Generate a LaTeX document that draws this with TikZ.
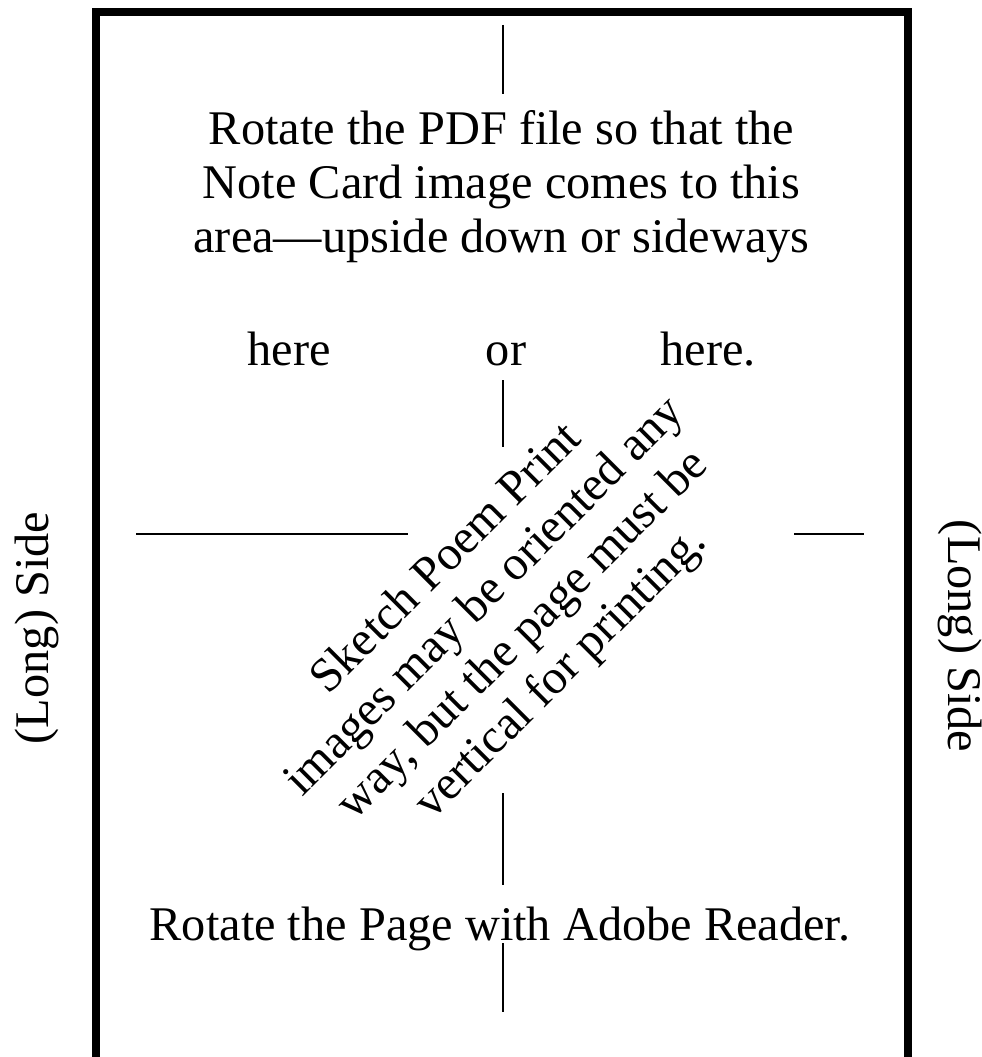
\documentclass[tikz,border=0pt]{standalone}
\usepackage{fontspec}
\setmainfont{Liberation Serif}
\tikzset{
  cardtext/.style={inner sep=0pt, font=\fontsize{27.5}{30.7}\selectfont},
  cutline/.style={line width=1.1pt},
  frameline/.style={line width=4.5pt, line join=miter}
}
\begin{document}
\begin{tikzpicture}
          \useasboundingbox (0, 0) rectangle (19.64, -21.14);
          % frame, open at the bottom
          \coordinate (FL) at (1.92, -21.6);
          \coordinate (FR) at (18.16, -21.6);
          \draw[frameline] (FL) |- (10.04, -0.24) -| (FR);
          % texts
          \node[cardtext, anchor=base] (T1) at (10.03, -2.90) {Rotate the PDF file so that the};
          \node[cardtext, anchor=base] (T2) at (10.03, -3.98) {Note Card image comes to this};
          \node[cardtext, anchor=base] (T3) at (10.03, -5.06) {area---upside down or sideways};
          \node[cardtext, anchor=base] (H1) at (5.78, -7.30) {here};
          \node[cardtext, anchor=base] (H2) at (10.12, -7.30) {or};
          \node[cardtext, anchor=base] (H3) at (14.16, -7.30) {here.};
          \node[cardtext, anchor=base] (B1) at (10.00, -18.80) {Rotate the Page with Adobe Reader.};
          \node[cardtext, align=center, rotate=45] (M1) at (10.10, -12.34)
            {Sketch Poem Print\\images may be oriented any\\way, but the page must be\\vertical for printing.};
          \node[cardtext, rotate=90] (S1) at (0.74, -12.56) {(Long) Side};
          \node[cardtext, rotate=-90] (S2) at (19.20, -12.72) {(Long) Side};
          % cut marks
          \coordinate (V0) at (10.06, -0.50);
          \coordinate (V1) at (10.06, -1.88);
          \coordinate (V2) at (10.06, -7.60);
          \coordinate (V3) at (10.06, -8.94);
          \coordinate (V4) at (10.06, -15.86);
          \coordinate (V5) at (10.06, -17.70);
          \coordinate (V6) at (10.06, -18.86);
          \coordinate (V7) at (10.06, -20.24);
          \coordinate (W0) at (2.72, -10.68);
          \coordinate (W1) at (8.16, -10.68);
          \coordinate (W2) at (15.88, -10.68);
          \coordinate (W3) at (17.28, -10.68);
          \draw[cutline] (V0) -- (V1);
          \draw[cutline] (V2) -- (V3);
          \draw[cutline] (V4) -- (V5);
          \draw[cutline] (V6) -- (V7);
          \draw[cutline] (W0) -- (W1);
          \draw[cutline] (W2) -- (W3);
        \end{tikzpicture}
\end{document}
